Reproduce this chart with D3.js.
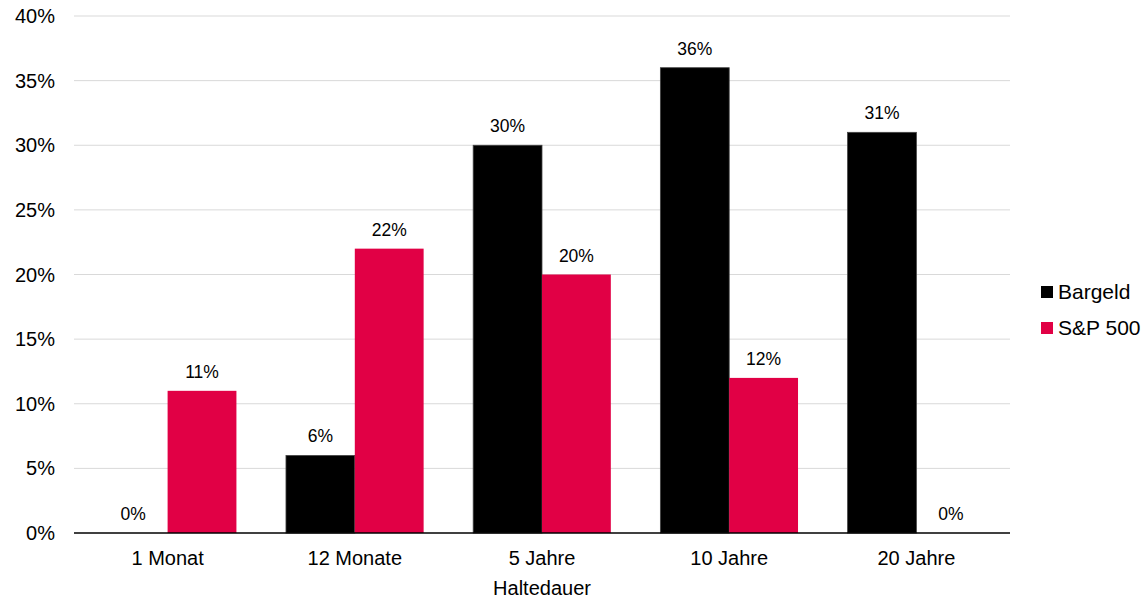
<!DOCTYPE html>
<html>
<head>
    <title>Haltedauer</title>
    <script src="https://d3js.org/d3.v7.min.js"></script>
    <style>
        html, body {
            margin: 0;
            padding: 0;
            background: white;
        }
        #chart {
            font-family: "Liberation Sans", Arial, sans-serif;
        }
    </style>
</head>
<body>
<div id="chart"></div>
<script>
    // chart data
    const categories = ['1 Monat', '12 Monate', '5 Jahre', '10 Jahre', '20 Jahre'];
    const seriesNames = ['Bargeld', 'S&P 500'];
    const bargeld = [0, 6, 30, 36, 31];
    const sp500 = [11, 22, 20, 12, 0];
    const yTicks = [0, 5, 10, 15, 20, 25, 30, 35, 40];
    const seriesColors = ['#000000', '#e10045'];
    const xTitle = 'Haltedauer';

    const width = 1144;
    const height = 599;
    const margin = {top: 16, right: 134, bottom: 66, left: 74};

    const svg = d3.select('#chart')
        .append('svg')
        .attr('width', width)
        .attr('height', height);

    const x0 = d3.scaleBand()
        .domain(categories)
        .range([margin.left, width - margin.right])
        .padding(0);

    const x1 = d3.scaleBand()
        .domain(seriesNames)
        .range([0, x0.bandwidth()])
        .paddingInner(0)
        .paddingOuter(0.36);

    const y = d3.scaleLinear()
        .domain([0, 40])
        .range([height - margin.bottom, margin.top]);

    // gridlines
    svg.append('g')
        .selectAll('line')
        .data(yTicks.filter(d => d > 0))
        .enter()
        .append('line')
        .attr('x1', margin.left)
        .attr('x2', width - margin.right)
        .attr('y1', d => y(d))
        .attr('y2', d => y(d))
        .attr('stroke', '#d9d9d9')
        .attr('stroke-width', 1);

    // y axis labels
    svg.append('g')
        .selectAll('text')
        .data(yTicks)
        .enter()
        .append('text')
        .attr('x', 55)
        .attr('y', d => y(d))
        .attr('dy', '0.35em')
        .attr('text-anchor', 'end')
        .attr('fill', '#000')
        .style('font-size', '20px')
        .text(d => d + '%');

    const rows = categories.map((c, i) => ({
        category: c,
        values: [bargeld[i], sp500[i]]
    }));

    const groups = svg.append('g')
        .selectAll('g')
        .data(rows)
        .enter()
        .append('g')
        .attr('transform', d => `translate(${x0(d.category)},0)`);

    groups.selectAll('rect')
        .data(d => d.values.map((v, j) => ({name: seriesNames[j], value: v, color: seriesColors[j]})))
        .enter()
        .filter(d => d.value > 0)
        .append('rect')
        .attr('x', d => x1(d.name))
        .attr('y', d => y(d.value))
        .attr('width', x1.bandwidth())
        .attr('height', d => y(0) - y(d.value))
        .attr('fill', d => d.color)
        .attr('stroke', d => d.color === '#000000' ? '#444' : 'none')
        .attr('stroke-width', 0.8);

    // value labels
    groups.selectAll('text')
        .data(d => d.values.map((v, j) => ({name: seriesNames[j], value: v})))
        .enter()
        .append('text')
        .attr('x', d => x1(d.name) + x1.bandwidth() / 2)
        .attr('y', d => y(d.value) - 13)
        .attr('text-anchor', 'middle')
        .attr('fill', '#000')
        .style('font-size', '17.5px')
        .text(d => d.value + '%');

    // x axis line
    svg.append('line')
        .attr('x1', margin.left)
        .attr('x2', width - margin.right)
        .attr('y1', y(0))
        .attr('y2', y(0))
        .attr('stroke', '#000')
        .attr('stroke-width', 1.5);

    // category labels
    svg.append('g')
        .selectAll('text')
        .data(categories)
        .enter()
        .append('text')
        .attr('x', d => x0(d) + x0.bandwidth() / 2)
        .attr('y', y(0) + 32)
        .attr('text-anchor', 'middle')
        .attr('fill', '#000')
        .style('font-size', '20px')
        .text(d => d);

    svg.append('text')
        .attr('x', margin.left + (width - margin.right - margin.left) / 2)
        .attr('y', y(0) + 62)
        .attr('text-anchor', 'middle')
        .attr('fill', '#000')
        .style('font-size', '20px')
        .text(xTitle);

    // legend
    const legend = svg.append('g')
        .selectAll('g')
        .data(seriesNames)
        .enter()
        .append('g')
        .attr('transform', (d, i) => `translate(1041,${292 + i * 36})`);

    legend.append('rect')
        .attr('x', 0)
        .attr('y', -6)
        .attr('width', 12)
        .attr('height', 12)
        .attr('fill', (d, i) => seriesColors[i]);

    legend.append('text')
        .attr('x', 17)
        .attr('y', 0)
        .attr('dy', '0.35em')
        .attr('fill', '#000')
        .style('font-size', '21px')
        .text(d => d);
</script>
</body>
</html>
